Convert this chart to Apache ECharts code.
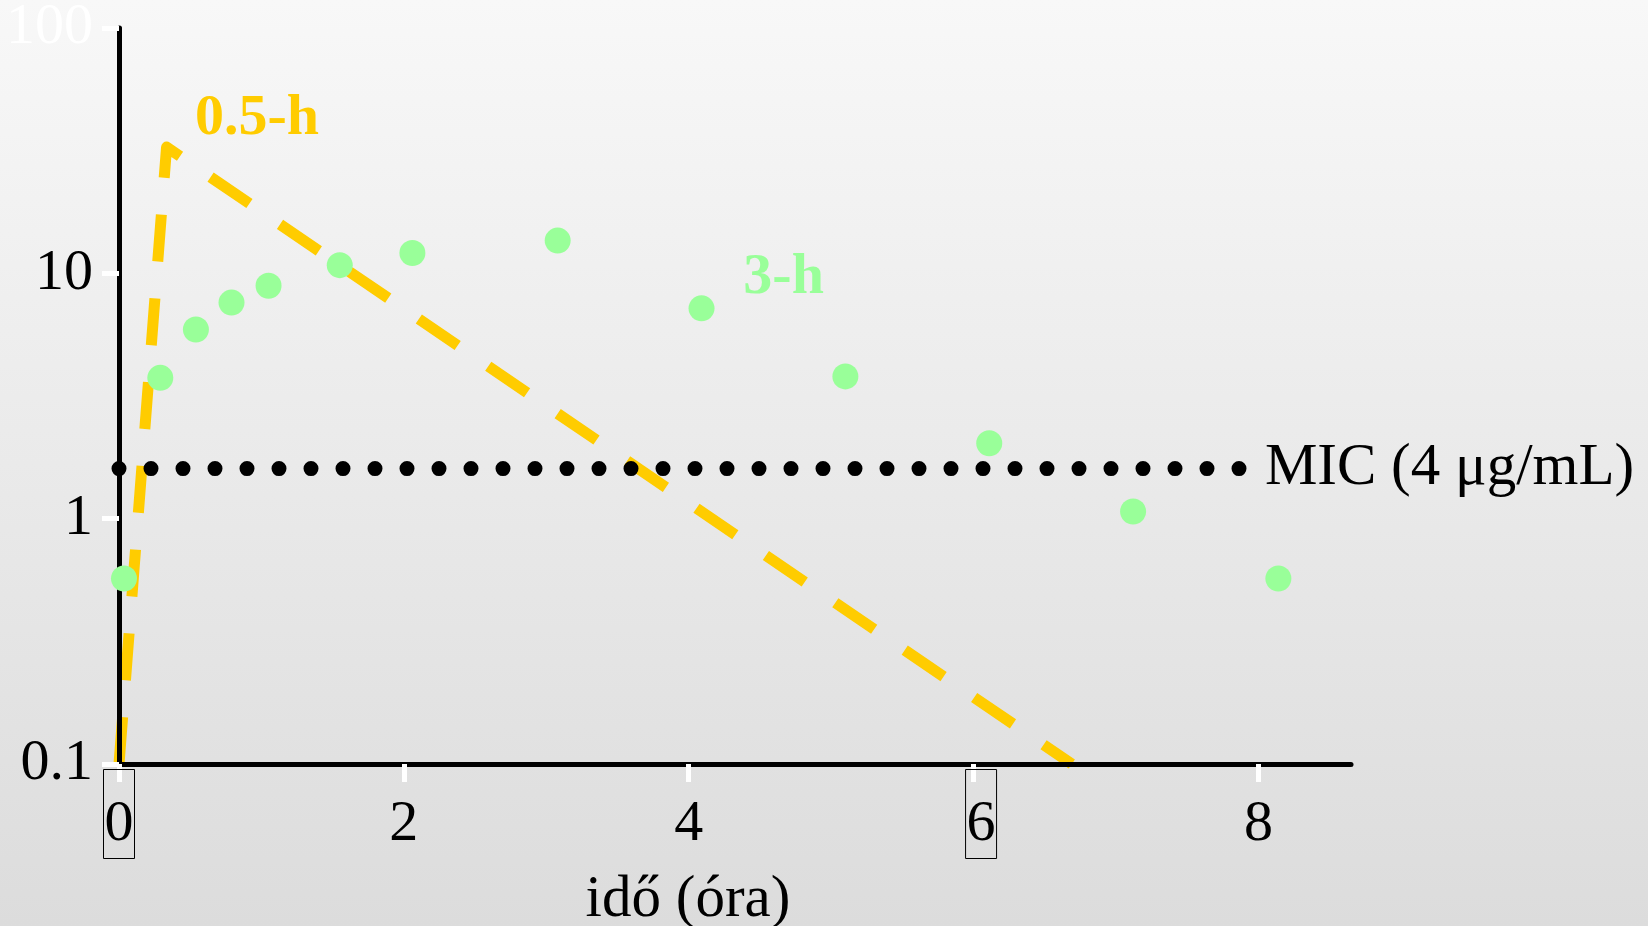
<!DOCTYPE html>
<html>
<head>
<meta charset="utf-8">
<script src="https://cdn.jsdelivr.net/npm/echarts@6/dist/echarts.min.js"></script>
<style>
html, body { margin: 0; padding: 0; }
#chart { width: 1648px; height: 926px; }
</style>
</head>
<body>
<div id="chart"></div>
<script>
// ---- data ----
const xTicks = [0, 2, 4, 6, 8];
const boxedXTicks = [0, 6];
const xMax = 8.65;
const yTicks = [0.1, 1, 10, 100];
const yTickLabels = ['0.1', '1', '10', '100'];
const hiddenYLabels = ['100'];

// 0.5-h infusion curve (time, concentration)
const infusion05Times = [0, 0.334, 6.69];
const infusion05Conc = [0.1, 32.7, 0.1];

// 3-h infusion measurements
const infusion3Times = [0.035, 0.29, 0.54, 0.79, 1.05, 1.55, 2.06, 3.08, 4.09, 5.1, 6.11, 7.12, 8.14];
const infusion3Conc = [0.57, 3.75, 5.9, 7.6, 8.9, 10.8, 12.1, 13.6, 7.2, 3.8, 2.03, 1.07, 0.57];

// MIC line
const micValue = 1.6;
const micTimes = [0, 7.87];
const micLabel = 'MIC (4 μg/mL)';

// annotations
const label05 = '0.5-h';
const label05At = [0.53, 42.5];
const label3 = '3-h';
const label3At = [4.38, 9.55];
const xAxisName = 'idő (óra)';

// ---- chart ----
const FONT = "'Liberation Serif', 'Times New Roman', serif";
const GOLD = '#FFCC00';
const GREEN = '#99FF99';

const infusion05 = infusion05Times.map((t, i) => [t, infusion05Conc[i]]);
const infusion3 = infusion3Times.map((t, i) => [t, infusion3Conc[i]]);
const mic = micTimes.map(t => [t, micValue]);

const chart = echarts.init(document.getElementById('chart'), null, { renderer: 'canvas' });

const xLabelBase = { fontFamily: FONT, fontSize: 58, lineHeight: 58, color: '#000', padding: [26, 1, 5, 1] };

const option = {
  animation: false,
  backgroundColor: {
    type: 'linear', x: 0, y: 0, x2: 0, y2: 1,
    colorStops: [{ offset: 0, color: '#F8F8F8' }, { offset: 1, color: '#DCDCDC' }]
  },
  grid: { left: 119, right: 297, top: 28, bottom: 162, containLabel: false, outerBoundsMode: 'none' },
  xAxis: {
    type: 'value',
    min: 0,
    max: xMax,
    z: 2,
    splitLine: { show: false },
    axisLine: { show: true, lineStyle: { color: '#000', width: 5 } },
    axisTick: { show: true, customValues: xTicks, length: 18, lineStyle: { color: '#fff', width: 5 } },
    axisLabel: {
      customValues: xTicks,
      margin: 21,
      formatter: function (v) {
        const s = String(v);
        if (boxedXTicks.indexOf(v) >= 0) {
          return v === 6 ? '{s| }{b|' + s + '}' : '{b|' + s + '}';
        }
        return '{n|' + s + '}';
      },
      rich: {
        n: xLabelBase,
        b: Object.assign({}, xLabelBase, { borderColor: '#000', borderWidth: 1 }),
        s: { width: 15, fontSize: 58, lineHeight: 58, fontFamily: FONT }
      }
    },
    name: xAxisName,
    nameLocation: 'middle',
    nameGap: 107,
    nameTextStyle: { fontFamily: FONT, fontSize: 59, color: '#000', padding: [0, 94, 0, 0] }
  },
  yAxis: {
    type: 'log',
    logBase: 10,
    min: 0.1,
    max: 100,
    z: 2,
    splitLine: { show: false },
    axisLine: { show: true, lineStyle: { color: '#000', width: 5 } },
    axisTick: { show: true, length: 17, lineStyle: { color: '#fff', width: 5 } },
    axisLabel: {
      margin: 26,
      fontFamily: FONT,
      fontSize: 58,
      color: '#000',
      formatter: function (v) {
        const idx = Math.round(Math.log10(v)) + 1;
        const s = yTickLabels[idx];
        if (s === undefined) return '';
        return hiddenYLabels.indexOf(s) >= 0 ? '{w|' + s + '}' : s;
      },
      rich: { w: { color: '#fff', fontFamily: FONT, fontSize: 58 } }
    }
  },
  series: [
    {
      name: '0.5-h',
      type: 'line',
      data: infusion05,
      z: 1,
      clip: false,
      symbol: 'none',
      silent: true,
      lineStyle: { color: GOLD, width: 11, type: [47, 37], cap: 'butt', join: 'round' },
      markPoint: {
        silent: true,
        symbol: 'circle',
        symbolSize: 1,
        itemStyle: { color: 'rgba(0,0,0,0)' },
        label: {
          show: true, position: 'right', distance: 0,
          formatter: label05, fontFamily: FONT, fontSize: 58, fontWeight: 'bold', color: GOLD
        },
        data: [{ coord: label05At }]
      }
    },
    {
      name: 'MIC',
      type: 'line',
      data: mic,
      z: 3,
      symbol: 'none',
      silent: true,
      lineStyle: { color: '#000', width: 15, type: [0, 32], cap: 'round' },
      endLabel: {
        show: true, distance: 25, formatter: micLabel,
        fontFamily: FONT, fontSize: 59, color: '#000'
      }
    },
    {
      name: '3-h',
      type: 'scatter',
      data: infusion3,
      z: 4,
      silent: true,
      symbol: 'circle',
      symbolSize: 26,
      itemStyle: { color: GREEN, opacity: 1 },
      markPoint: {
        silent: true,
        symbol: 'circle',
        symbolSize: 1,
        itemStyle: { color: 'rgba(0,0,0,0)' },
        label: {
          show: true, position: 'right', distance: 0,
          formatter: label3, fontFamily: FONT, fontSize: 58, fontWeight: 'bold', color: GREEN
        },
        data: [{ coord: label3At }]
      }
    }
  ]
};

chart.setOption(option);
</script>
</body>
</html>
